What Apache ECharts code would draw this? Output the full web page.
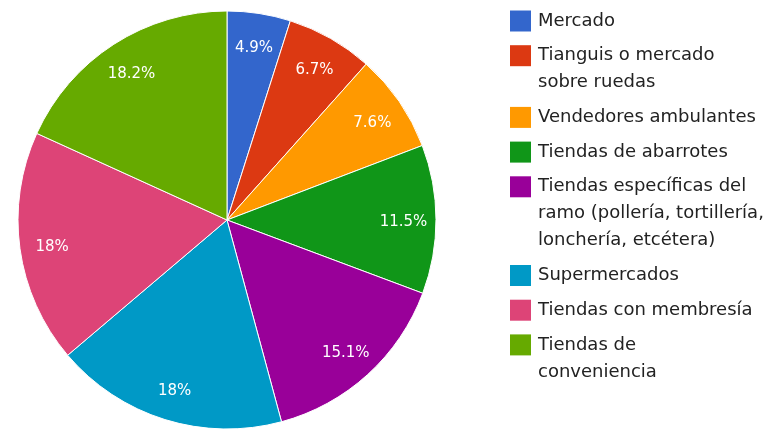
<!DOCTYPE html>
<html>
<head>
<meta charset="utf-8">
<script src="https://cdn.jsdelivr.net/npm/echarts@6/dist/echarts.min.js"></script>
<style>
  html, body { margin: 0; padding: 0; background: #fff; }
  #chart { width: 765px; height: 430px; }
</style>
</head>
<body>
<div id="chart"></div>
<script>
// categorias y porcentajes
const categories = [
    'Mercado',
    'Tianguis o mercado sobre ruedas',
    'Vendedores ambulantes',
    'Tiendas de abarrotes',
    'Tiendas específicas del ramo (pollería, tortillería, lonchería, etcétera)',
    'Supermercados',
    'Tiendas con membresía',
    'Tiendas de conveniencia'
];
const values = [4.9, 6.7, 7.6, 11.5, 15.1, 18, 18, 18.2];
// como se parte cada nombre en la leyenda
const legendLines = [
    ['Mercado'],
    ['Tianguis o mercado', 'sobre ruedas'],
    ['Vendedores ambulantes'],
    ['Tiendas de abarrotes'],
    ['Tiendas específicas del', 'ramo (pollería, tortillería,', 'lonchería, etcétera)'],
    ['Supermercados'],
    ['Tiendas con membresía'],
    ['Tiendas de', 'conveniencia']
];
const colors = ['#3366cc', '#dc3912', '#ff9900', '#109618', '#990099', '#0099c6', '#dd4477', '#66aa00'];

const FONT = '"DejaVu Sans", sans-serif';

let chart = echarts.init(document.getElementById('chart'));

let pieData = [];
for (let i = 0; i < categories.length; i++) {
    pieData.push({ name: categories[i], value: values[i], itemStyle: { color: colors[i] } });
}

// estilos rich: un cuadrito por color
let rich = {
    t: { fontSize: 18, fontFamily: FONT, color: '#222', lineHeight: 27, verticalAlign: 'middle' },
    gap: { width: 7, height: 21, lineHeight: 27 },
    ind: { width: 28, height: 21, lineHeight: 27 }
};
for (let i = 0; i < colors.length; i++) {
    rich['s' + i] = { width: 21, height: 21, lineHeight: 27, backgroundColor: colors[i], verticalAlign: 'middle' };
}

let option = {
    backgroundColor: '#fff',
    animation: false,
    legend: {
        orient: 'vertical',
        left: 505,
        top: 7.5,
        padding: 0,
        itemGap: 7.7,
        itemWidth: 0,
        itemHeight: 0,
        itemStyle: { borderWidth: 0 },
        data: categories,
        textStyle: { fontSize: 18, fontFamily: FONT, color: '#222', lineHeight: 27, rich: rich },
        formatter: function (name) {
            let idx = categories.indexOf(name);
            let lines = legendLines[idx];
            let out = '{s' + idx + '|}{gap|}{t|' + lines[0] + '}';
            for (let j = 1; j < lines.length; j++) {
                out += '\n{ind|}{t|' + lines[j] + '}';
            }
            return out;
        }
    },
    series: [
        {
            type: 'pie',
            center: [227, 220],
            radius: [0, 209],
            startAngle: 90,
            clockwise: true,
            label: { show: false },
            labelLine: { show: false },
            itemStyle: { borderColor: '#fff', borderWidth: 1 },
            emphasis: { disabled: true },
            data: pieData
        },
        {
            // anillo transparente solo para colocar las etiquetas cerca del borde
            type: 'pie',
            center: [227, 220],
            radius: [140, 207],
            startAngle: 90,
            clockwise: true,
            silent: true,
            itemStyle: { color: 'rgba(0,0,0,0)', borderWidth: 0 },
            label: {
                show: true,
                position: 'inside',
                formatter: '{c}%',
                color: '#fff',
                fontSize: 15,
                fontFamily: FONT
            },
            labelLayout: function () {
                return { dy: 3 };
            },
            labelLine: { show: false },
            emphasis: { disabled: true },
            data: categories.map((c, i) => ({ name: c, value: values[i] }))
        }
    ]
};

chart.setOption(option);
</script>
</body>
</html>
